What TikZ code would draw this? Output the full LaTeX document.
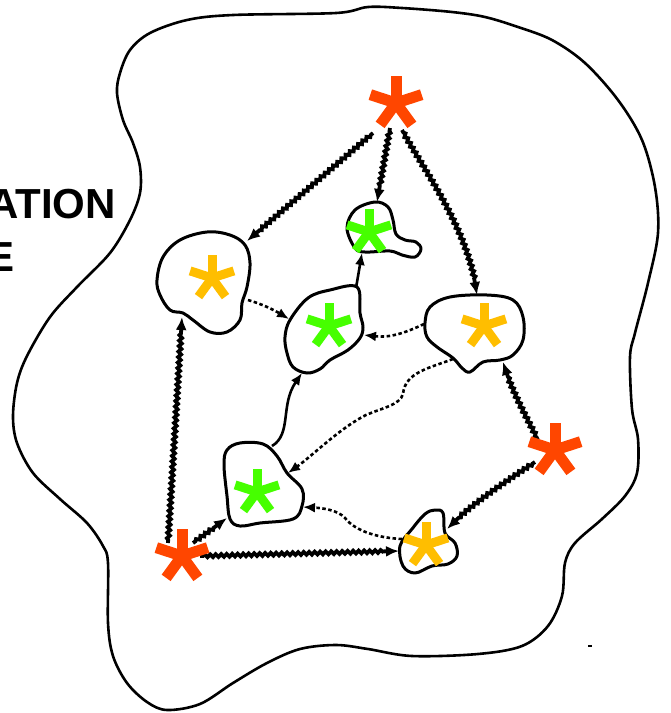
\documentclass[tikz,border=0pt]{standalone}
\usepackage{fontspec}
\setmainfont{Liberation Sans}
\usetikzlibrary{decorations.pathmorphing,arrows.meta}
\definecolor{redstar}{RGB}{255,70,0}
\definecolor{greenstar}{RGB}{70,255,0}
\definecolor{yellowstar}{RGB}{255,190,0}
\tikzset{
  outerline/.style={line width=2.6pt, line join=round},
  blobline/.style={line width=3pt, line join=round},
  wave/.style={line width=3.8pt, decorate,
    decoration={snake, amplitude=1.4pt, segment length=5.5pt, pre length=3pt, post length=14pt},
    -{Latex[length=13pt,width=11pt]}},
  solidarrow/.style={line width=2.6pt, -{Latex[length=12pt,width=10pt]}},
  dotarrow/.style={line width=2.6pt, dash pattern=on 3.5pt off 2.5pt, -{Latex[length=12pt,width=10pt]}},
  starnode/.style={circle, inner sep=0pt, minimum size=40pt},
  labeltext/.style={anchor=base east, inner sep=0pt, font=\bfseries\fontsize{42}{42}\selectfont},
}
\newcommand\starmark[4]{%
  \foreach \ang in {90,162,234,306,18}{\draw[#2, line width=#4] (#1.center) -- ++(\ang:#3);}}
\begin{document}
\begin{tikzpicture}[x=1pt,y=-1pt]
\useasboundingbox (0,0) rectangle (671,713);
\clip (0,0) rectangle (671,713);
\fill[white] (0,0) rectangle (671,713);

% texts
\node[labeltext] (t1) at (116,218) {ATION};
\node[labeltext] (t2) at (15,271) {E};

% outer region
\draw[outerline] plot[smooth cycle, tension=0.55] coordinates {
 (233,15) (336,13) (368,7) (402,8) (452,12) (485,17) (518,27) (552,40) (585,63)
 (618,100) (642,140) (655,187) (658,233) (648,283) (635,333) (630,357) (632,409)
 (638,439) (637,473) (625,496) (602,519) (575,543) (565,563) (562,596) (548,626)
 (522,646) (478,654) (412,656) (368,649) (336,645) (300,649) (267,663) (233,683)
 (200,704) (167,710) (147,702) (127,683) (113,656) (108,623) (108,563) (103,546)
 (87,523) (60,499) (33,473) (17,443) (13,416) (17,383) (27,356) (50,317) (77,287)
 (110,253) (130,220) (140,193) (140,167) (133,143) (123,120) (117,93) (120,73)
 (130,50) (150,33) (187,20)};
\draw[line width=2pt] (588,646) -- (592,646);

% blobs
\draw[blobline] plot[smooth cycle, tension=0.6] coordinates {
 (157,280) (163,257) (180,240) (207,232) (230,235) (245,245) (250,263) (247,287)
 (242,303) (240,320) (227,332) (210,332) (193,320) (183,313) (170,310) (160,295)};
\draw[blobline] plot[smooth cycle, tension=0.6] coordinates {
 (347,228) (355,210) (375,202) (388,207) (393,220) (396,234) (405,240) (416,242)
 (421,249) (415,257) (402,255) (390,251) (365,252) (355,248)};
\draw[blobline] plot[smooth cycle, tension=0.6] coordinates {
 (330,290) (357,287) (360,313) (363,327) (360,338) (348,350) (330,360) (320,369)
 (307,373) (293,367) (287,353) (285,337) (290,320) (308,298)};
\draw[blobline] plot[smooth cycle, tension=0.6] coordinates {
 (425,323) (430,307) (450,297) (487,295) (513,300) (523,317) (523,340) (513,355)
 (500,360) (483,362) (470,372) (462,368) (453,358) (437,347) (427,337)};
\draw[blobline] plot[smooth cycle, tension=0.6] coordinates {
 (227,450) (240,443) (263,444) (277,456) (287,473) (302,489) (302,506) (293,519)
 (260,523) (240,526) (230,519) (227,496) (224,465)};
\draw[blobline] plot[smooth cycle, tension=0.6] coordinates {
 (400,546) (412,529) (425,514) (435,510) (443,513) (445,533) (455,543) (457,556)
 (448,564) (432,566) (415,573) (403,566)};

% star nodes
\node[starnode] (R1) at (396,103) {};
\node[starnode] (R2) at (555,450) {};
\node[starnode] (R3) at (182,556) {};
\node[starnode] (G1) at (369,232) {};
\node[starnode] (G2) at (329,326) {};
\node[starnode] (G3) at (257,492) {};
\node[starnode] (Y1) at (212,278) {};
\node[starnode] (Y2) at (484,326) {};
\node[starnode] (Y3) at (426,545) {};

% attachment points
\coordinate (R1w) at (373,133);
\coordinate (R1s) at (390,128);
\coordinate (R1e) at (402,130);
\coordinate (R2nw) at (538,440);
\coordinate (R2sw) at (535,462);
\coordinate (R3n) at (168,543);
\coordinate (R3ne) at (193,543);
\coordinate (R3e) at (200,556);
\coordinate (Y1ne) at (247,241);
\coordinate (Y1s) at (182,317);
\coordinate (Y1e) at (248,300);
\coordinate (G1n) at (377,202);
\coordinate (G1s) at (362,253);
\coordinate (G2ne) at (356,288);
\coordinate (G2s) at (302,373);
\coordinate (G2w) at (289,319);
\coordinate (G2e) at (364,335);
\coordinate (Y2n) at (477,295);
\coordinate (Y2s) at (503,362);
\coordinate (Y2w) at (424,324);
\coordinate (Y2sw) at (453,359);
\coordinate (G3sw) at (227,518);
\coordinate (G3n) at (272,446);
\coordinate (G3e) at (288,473);
\coordinate (G3se) at (303,507);
\coordinate (Y3w) at (399,551);
\coordinate (Y3ne) at (447,529);
\coordinate (Y3nw) at (402,539);

% wavy connectors
\draw[wave] (R1w) -- (Y1ne);
\draw[wave] (R1s) -- (G1n);
\draw[wave] (R1e) .. controls (425,172) and (468,228) .. (Y2n);
\draw[wave] (R3n) -- (Y1s);
\draw[wave] (R3ne) -- (G3sw);
\draw[wave] (R3e) -- (Y3w);
\draw[wave] (R2nw) .. controls (527,418) and (512,392) .. (Y2s);
\draw[wave] (R2sw) .. controls (505,482) and (470,505) .. (Y3ne);

% thin solid connectors
\draw[solidarrow] (G3n) .. controls (292,434) and (280,405) .. (G2s);
\draw[solidarrow] (G2ne) -- (G1s);

% dotted connectors
\draw[dotarrow] (Y1e) .. controls (262,304) and (274,310) .. (G2w);
\draw[dotarrow] (Y2w) .. controls (405,333) and (390,338) .. (G2e);
\draw[dotarrow] (Y2sw) .. controls (430,368) and (405,372) .. (403,394)
   .. controls (400,405) and (382,408) .. (366,415)
   .. controls (340,428) and (312,456) .. (G3e);
\draw[dotarrow] (Y3nw) .. controls (380,538) and (356,532) .. (345,518)
   .. controls (338,510) and (322,508) .. (G3se);

% stars
\starmark{R1}{redstar}{27pt}{11pt}
\starmark{R2}{redstar}{27pt}{11pt}
\starmark{R3}{redstar}{27pt}{11pt}
\starmark{G1}{greenstar}{23pt}{9pt}
\starmark{G2}{greenstar}{23pt}{9pt}
\starmark{G3}{greenstar}{23pt}{9pt}
\starmark{Y1}{yellowstar}{23pt}{9pt}
\starmark{Y2}{yellowstar}{23pt}{9pt}
\starmark{Y3}{yellowstar}{23pt}{9pt}
\end{tikzpicture}
\end{document}
